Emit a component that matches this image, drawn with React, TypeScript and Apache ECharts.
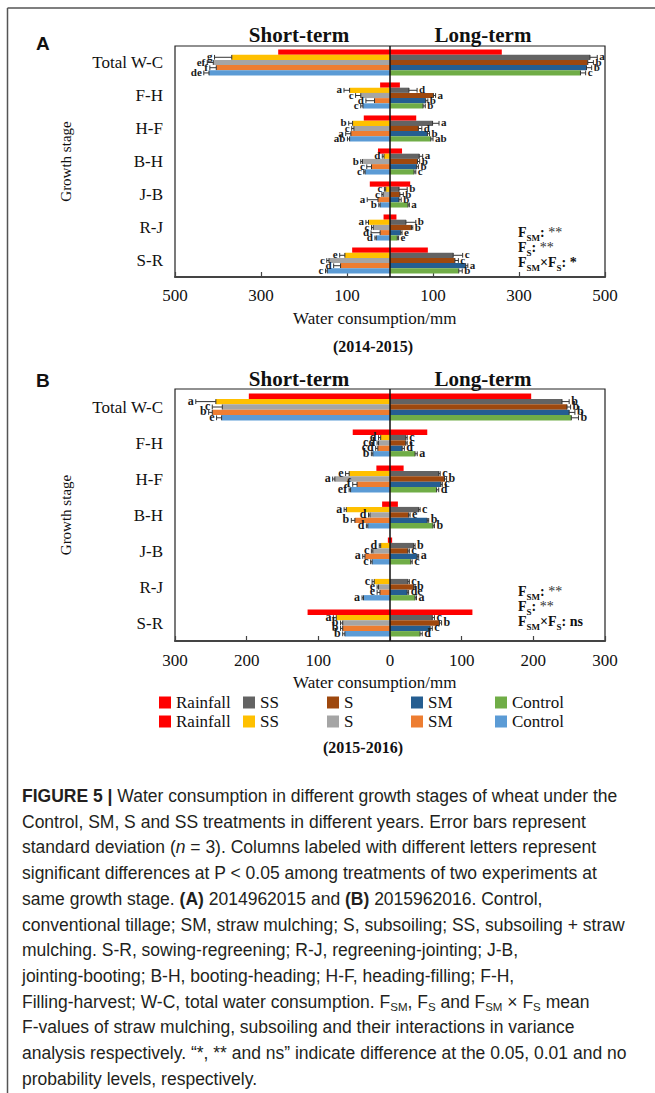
import React, { useEffect, useRef } from 'react';
import * as echarts from 'echarts';

// ---------- data ----------
const stages = ['Total W-C', 'F-H', 'H-F', 'B-H', 'J-B', 'R-J', 'S-R'];
const treatments = ['SS', 'S', 'SM', 'Control'];

// Panel A (2014-2015)
const rainA = [260, 23, 61, 28, 47, 15, 88];
const ssShortA = [368, 94, 87, 14, 10, 50, 105];
const sShortA = [411, 68, 84, 64, 16, 39, 142];
const smShortA = [404, 36, 91, 43, 28, 23, 115];
const ctrlShortA = [421, 63, 94, 58, 23, 32, 146];
const ssShortSdA = [40, 13, 9, 4, 3, 6, 12];
const sShortSdA = [14, 12, 5, 4, 3, 4, 5];
const smShortSdA = [15, 20, 12, 11, 25, 21, 16];
const ctrlShortSdA = [12, 5, 5, 3, 3, 3, 4];
const ssShortLetA = ['g', 'a', 'b', 'd', 'c', 'a', 'e'];
const sShortLetA = ['ef', 'c', 'c', 'b', 'c', 'c', 'c'];
const smShortLetA = ['f', 'd', 'a', 'c', 'a', 'd', 'd'];
const ctrlShortLetA = ['de', 'c', 'ab', 'c', 'b', 'd', 'c'];
const ssLongA = [465, 44, 99, 68, 21, 37, 147];
const sLongA = [460, 101, 66, 64, 23, 50, 151];
const smLongA = [457, 83, 87, 62, 21, 25, 176];
const ctrlLongA = [443, 77, 95, 56, 42, 17, 160];
const ssLongSdA = [17, 19, 15, 8, 19, 23, 22];
const sLongSdA = [13, 5, 8, 5, 8, 3, 8];
const smLongSdA = [12, 5, 5, 4, 5, 3, 5];
const ctrlLongSdA = [12, 5, 5, 4, 3, 3, 8];
const ssLongLetA = ['a', 'd', 'a', 'a', 'b', 'b', 'c'];
const sLongLetA = ['b', 'a', 'd', 'b', 'b', 'b', 'c'];
const smLongLetA = ['b', 'b', 'b', 'b', 'b', 'e', 'a'];
const ctrlLongLetA = ['c', 'b', 'ab', 'c', 'a', 'e', 'b'];

// Panel B (2015-2016)
const rainB = [197, 52, 19, 11, 3, 0, 115];
const ssShortB = [243, 13, 57, 61, 13, 22, 75];
const sShortB = [234, 16, 77, 28, 24, 16, 66];
const smShortB = [248, 17, 46, 49, 35, 14, 66];
const ctrlShortB = [235, 24, 55, 31, 25, 37, 63];
const ssShortSdB = [28, 3, 5, 3, 2, 3, 4];
const sShortSdB = [14, 2, 3, 2, 2, 2, 3];
const smShortSdB = [5, 3, 6, 5, 3, 4, 3];
const ctrlShortSdB = [7, 2, 2, 2, 2, 2, 3];
const ssShortLetB = ['a', 'd', 'e', 'a', 'd', 'c', 'a'];
const sShortLetB = ['c', 'cd', 'a', 'd', 'c', 'e', 'b'];
const smShortLetB = ['b', 'cd', 'f', 'b', 'a', 'e', 'b'];
const ctrlShortLetB = ['e', 'b', 'ef', 'd', 'c', 'a', 'b'];
const ssLongB = [240, 22, 68, 40, 33, 25, 59];
const sLongB = [247, 22, 76, 26, 25, 33, 69];
const smLongB = [250, 17, 71, 52, 38, 24, 56];
const ctrlLongB = [253, 35, 65, 60, 29, 35, 42];
const ssLongSdB = [10, 2, 2, 2, 2, 2, 3];
const sLongSdB = [5, 2, 3, 2, 2, 2, 3];
const smLongSdB = [8, 3, 2, 2, 2, 2, 3];
const ctrlLongSdB = [10, 3, 3, 2, 2, 2, 3];
const ssLongLetB = ['b', 'c', 'c', 'c', 'b', 'c', 'c'];
const sLongLetB = ['b', 'c', 'b', 'e', 'c', 'b', 'b'];
const smLongLetB = ['b', 'd', 'c', 'b', 'a', 'de', 'c'];
const ctrlLongLetB = ['b', 'a', 'd', 'b', 'c', 'a', 'd'];

const axisMaxA = 500;
const axisStepA = 200;
const axisMaxB = 300;
const axisStepB = 100;

const captionLines = [
  '{fb|FIGURE 5 |} Water consumption in different growth stages of wheat under the',
  'Control, SM, S and SS treatments in different years. Error bars represent',
  'standard deviation ({fi|n} = 3). Columns labeled with different letters represent',
  'significant differences at P < 0.05 among treatments of two experiments at',
  'same growth stage. {fb|(A)} 2014962015 and {fb|(B)} 2015962016. Control,',
  'conventional tillage; SM, straw mulching; S, subsoiling; SS, subsoiling + straw',
  'mulching. S-R, sowing-regreening; R-J, regreening-jointing; J-B,',
  'jointing-booting; B-H, booting-heading; H-F, heading-filling; F-H,',
  'Filling-harvest; W-C, total water consumption. F{fs|SM}, F{fs|S} and F{fs|SM} × F{fs|S} mean',
  'F-values of straw mulching, subsoiling and their interactions in variance',
  'analysis respectively. \u201c*, ** and ns\u201d indicate difference at the 0.05, 0.01 and no',
  'probability levels, respectively.',
];

// ---------- styles ----------
const SERIF = '"Liberation Serif", "Times New Roman", serif';
const SANS = '"Liberation Sans", Arial, sans-serif';
const rainColor = '#FF0000';
const longColors = ['#636363', '#9E480E', '#255E91', '#70AD47'];
const shortColors = ['#FFC000', '#A5A5A5', '#ED7D31', '#5B9BD5'];
const TXT = '#111111';
const CAP = '#231F20';
const CAP_SIZE = 17.5;

const panels = [
  {
    rain: rainA,
    short: [ssShortA, sShortA, smShortA, ctrlShortA],
    shortSd: [ssShortSdA, sShortSdA, smShortSdA, ctrlShortSdA],
    shortLet: [ssShortLetA, sShortLetA, smShortLetA, ctrlShortLetA],
    long: [ssLongA, sLongA, smLongA, ctrlLongA],
    longSd: [ssLongSdA, sLongSdA, smLongSdA, ctrlLongSdA],
    longLet: [ssLongLetA, sLongLetA, smLongLetA, ctrlLongLetA],
    gap: 0.21,
    max: axisMaxA,
    step: axisStepA,
    grid: { left: 175, top: 46, width: 430, height: 231 },
    labelMargin: 10,
    letter: 11,
  },
  {
    rain: rainB,
    short: [ssShortB, sShortB, smShortB, ctrlShortB],
    shortSd: [ssShortSdB, sShortSdB, smShortSdB, ctrlShortSdB],
    shortLet: [ssShortLetB, sShortLetB, smShortLetB, ctrlShortLetB],
    long: [ssLongB, sLongB, smLongB, ctrlLongB],
    longSd: [ssLongSdB, sLongSdB, smLongSdB, ctrlLongSdB],
    longLet: [ssLongLetB, sLongLetB, smLongLetB, ctrlLongLetB],
    gap: 0.25,
    max: axisMaxB,
    step: axisStepB,
    grid: { left: 175, top: 389, width: 430, height: 252 },
    labelMargin: 11,
    letter: 12,
  },
];

function buildOption() {
  const grids: any[] = [];
  const xAxes: any[] = [];
  const yAxes: any[] = [];
  const series: any[] = [];

  panels.forEach((p, g) => {
    grids.push({ ...p.grid, show: true, borderColor: '#222', borderWidth: 1.2, backgroundColor: 'transparent' });
    xAxes.push({
      gridIndex: g,
      type: 'value',
      min: -p.max,
      max: p.max,
      interval: p.step,
      splitLine: { show: false },
      axisLine: { show: true, lineStyle: { color: '#444', width: 2 } },
      axisTick: { show: true, inside: true, length: 5, lineStyle: { color: '#444', width: 1.2 } },
      axisLabel: {
        formatter: (v: number) => String(Math.abs(v)),
        fontFamily: SERIF,
        fontSize: 17,
        color: TXT,
        margin: p.labelMargin,
      },
    });
    yAxes.push({
      gridIndex: g,
      type: 'category',
      data: stages,
      inverse: true,
      axisLine: { show: false },
      axisTick: { show: false },
      axisLabel: { fontFamily: SERIF, fontSize: 17, color: TXT, margin: 12 },
      name: 'Growth stage',
      nameLocation: 'middle',
      nameGap: 102,
      nameRotate: 90,
      nameTextStyle: { fontFamily: SERIF, fontSize: 15, color: TXT },
    });

    const gapPct = Math.round(p.gap * 100) + '%';
    const common = { type: 'bar', xAxisIndex: g, yAxisIndex: g, barGap: '0%', barCategoryGap: gapPct };
    series.push({
      ...common,
      name: 'Rainfall|S',
      stack: 'rain' + g,
      data: p.rain.map((v) => -v),
      itemStyle: { color: rainColor },
      markLine: {
        silent: true,
        symbol: 'none',
        label: { show: false },
        lineStyle: { color: '#111', width: 1.5, type: 'solid' },
        data: [{ xAxis: 0 }],
        z: 10,
      },
    });
    series.push({ ...common, name: 'Rainfall|L', stack: 'rain' + g, data: p.rain.slice(), itemStyle: { color: rainColor } });
    treatments.forEach((t, ti) => {
      series.push({ ...common, name: t + '|S', stack: t + g, data: p.short[ti].map((v) => -v), itemStyle: { color: shortColors[ti] } });
      series.push({ ...common, name: t + '|L', stack: t + g, data: p.long[ti].slice(), itemStyle: { color: longColors[ti] } });
    });

    // error bars + significance letters
    const recs: any[] = [];
    treatments.forEach((t, ti) => {
      stages.forEach((s, ci) => {
        recs.push({ v: -p.short[ti][ci], sd: p.shortSd[ti][ci], letter: p.shortLet[ti][ci], dir: -1, cat: ci, slot: ti + 1 });
        recs.push({ v: p.long[ti][ci], sd: p.longSd[ti][ci], letter: p.longLet[ti][ci], dir: 1, cat: ci, slot: ti + 1 });
      });
    });
    const gap = p.gap;
    const letterSize = p.letter;
    series.push({
      type: 'custom',
      name: 'errors' + g,
      xAxisIndex: g,
      yAxisIndex: g,
      z: 5,
      silent: true,
      encode: { x: 0, y: 1 },
      data: recs.map((r) => [r.v, r.cat]),
      renderItem: (params: any, api: any) => {
        const r = recs[params.dataIndex];
        const band = api.size([0, 1])[1];
        const total = band * (1 - gap);
        const slotH = total / 5;
        const c0 = api.coord([r.v, r.cat]);
        const c1 = api.coord([r.v + r.dir * r.sd, r.cat]);
        const y = c0[1] - total / 2 + (r.slot + 0.5) * slotH;
        const cap = slotH * 0.9;
        const st = { stroke: '#333', lineWidth: 1 };
        return {
          type: 'group',
          children: [
            { type: 'line', shape: { x1: c0[0], y1: y, x2: c1[0], y2: y }, style: st },
            { type: 'line', shape: { x1: c1[0], y1: y - cap / 2, x2: c1[0], y2: y + cap / 2 }, style: st },
            { type: 'line', shape: { x1: c0[0], y1: y - cap / 2, x2: c0[0], y2: y + cap / 2 }, style: st },
            {
              type: 'text',
              x: c1[0] + r.dir * 2,
              y: y - 1,
              style: {
                text: r.letter,
                font: 'bold ' + letterSize + 'px ' + SERIF,
                fill: '#1a1a1a',
                align: r.dir > 0 ? 'left' : 'right',
                verticalAlign: 'middle',
              },
            },
          ],
        };
      },
    });
  });

  // legends (two rows, five columns)
  const legendCols = [159, 243, 327, 411, 495];
  const legendRows = [
    { y: 703, names: ['Rainfall|L', 'SS|L', 'S|L', 'SM|L', 'Control|L'] },
    { y: 722, names: ['Rainfall|S', 'SS|S', 'S|S', 'SM|S', 'Control|S'] },
  ];
  const legends: any[] = [];
  legendRows.forEach((row) => {
    row.names.forEach((n, i) => {
      legends.push({
        data: [n],
        left: legendCols[i],
        top: row.y - 9,
        padding: 0,
        itemGap: 0,
        itemWidth: 12,
        itemHeight: 12,
        icon: 'rect',
        selectedMode: false,
        formatter: (name: string) => name.split('|')[0],
        textStyle: { fontFamily: SERIF, fontSize: 17, color: TXT },
      });
    });
  });

  const txt = (x: number, y: number, text: string, font: string, align = 'left', extra: any = {}) => ({
    type: 'text',
    x,
    y,
    silent: true,
    style: { text, font, fill: TXT, align, verticalAlign: 'middle', textAlign: align, textVerticalAlign: 'middle', ...extra },
  });

  const annRich = {
    b: { font: 'bold 14px ' + SERIF, fill: TXT, lineHeight: 20, verticalAlign: 'middle' },
    n: { font: '14px ' + SERIF, fill: '#333', lineHeight: 20, verticalAlign: 'middle' },
    s: { font: 'bold 9px ' + SERIF, fill: TXT, lineHeight: 11, verticalAlign: 'bottom' },
  };
  const annotations = (y0: number, last: string) => [
    txt(518, y0, '{b|F}{s|SM}{b|: }{n|**}', '', 'left', { rich: annRich }),
    txt(518, y0 + 15, '{b|F}{s|S}{b|: }{n|**}', '', 'left', { rich: annRich }),
    txt(518, y0 + 30, '{b|F}{s|SM}{b|×F}{s|S}{b|: ' + last + '}', '', 'left', { rich: annRich }),
  ];

  const capRich = {
    fb: { font: 'bold ' + CAP_SIZE + 'px ' + SANS, fill: CAP, lineHeight: 22, verticalAlign: 'middle' },
    fi: { font: 'italic ' + CAP_SIZE + 'px ' + SANS, fill: CAP, lineHeight: 22, verticalAlign: 'middle' },
    fs: { font: '11.5px ' + SANS, fill: CAP, lineHeight: 13, verticalAlign: 'bottom' },
  };
  const caption = captionLines.map((line, i) => ({
    type: 'text',
    x: 22,
    y: 796 + i * 25.7,
    silent: true,
    style: {
      text: line,
      font: CAP_SIZE + 'px ' + SANS,
      fill: CAP,
      align: 'left',
      verticalAlign: 'middle',
      lineHeight: 22,
      rich: capRich,
    },
  }));

  const graphic: any[] = [
    { type: 'line', silent: true, shape: { x1: 7.5, y1: 8, x2: 655, y2: 8 }, style: { stroke: '#555', lineWidth: 1.5 } },
    { type: 'line', silent: true, shape: { x1: 7.5, y1: 8, x2: 7.5, y2: 1093 }, style: { stroke: '#555', lineWidth: 1.5 } },
    txt(36, 43.5, 'A', 'bold 19px ' + SANS),
    txt(36, 380, 'B', 'bold 19px ' + SANS),
    txt(299, 35, 'Short-term', 'bold 21px ' + SERIF, 'center'),
    txt(483, 35, 'Long-term', 'bold 21px ' + SERIF, 'center'),
    txt(299, 379, 'Short-term', 'bold 21px ' + SERIF, 'center'),
    txt(483, 379, 'Long-term', 'bold 21px ' + SERIF, 'center'),
    txt(293, 318, 'Water consumption/mm', '17px ' + SERIF),
    txt(293, 682, 'Water consumption/mm', '17px ' + SERIF),
    txt(373, 346, '(2014-2015)', 'bold 16px ' + SERIF, 'center'),
    txt(363, 747, '(2015-2016)', 'bold 16px ' + SERIF, 'center'),
    ...annotations(232, '*'),
    ...annotations(591, 'ns'),
    ...caption,
  ];

  return {
    animation: false,
    backgroundColor: '#ffffff',
    textStyle: { fontFamily: SERIF },
    grid: grids,
    xAxis: xAxes,
    yAxis: yAxes,
    legend: legends,
    series,
    graphic,
  };
}

export default function App() {
  const ref = useRef<HTMLDivElement>(null);
  useEffect(() => {
    if (!ref.current) return;
    const chart = echarts.init(ref.current, undefined, { renderer: 'svg' });
    chart.setOption(buildOption() as any);
    return () => chart.dispose();
  }, []);
  return <div ref={ref} style={{ position: 'absolute', left: 0, top: 0, width: 655, height: 1093 }} />;
}
